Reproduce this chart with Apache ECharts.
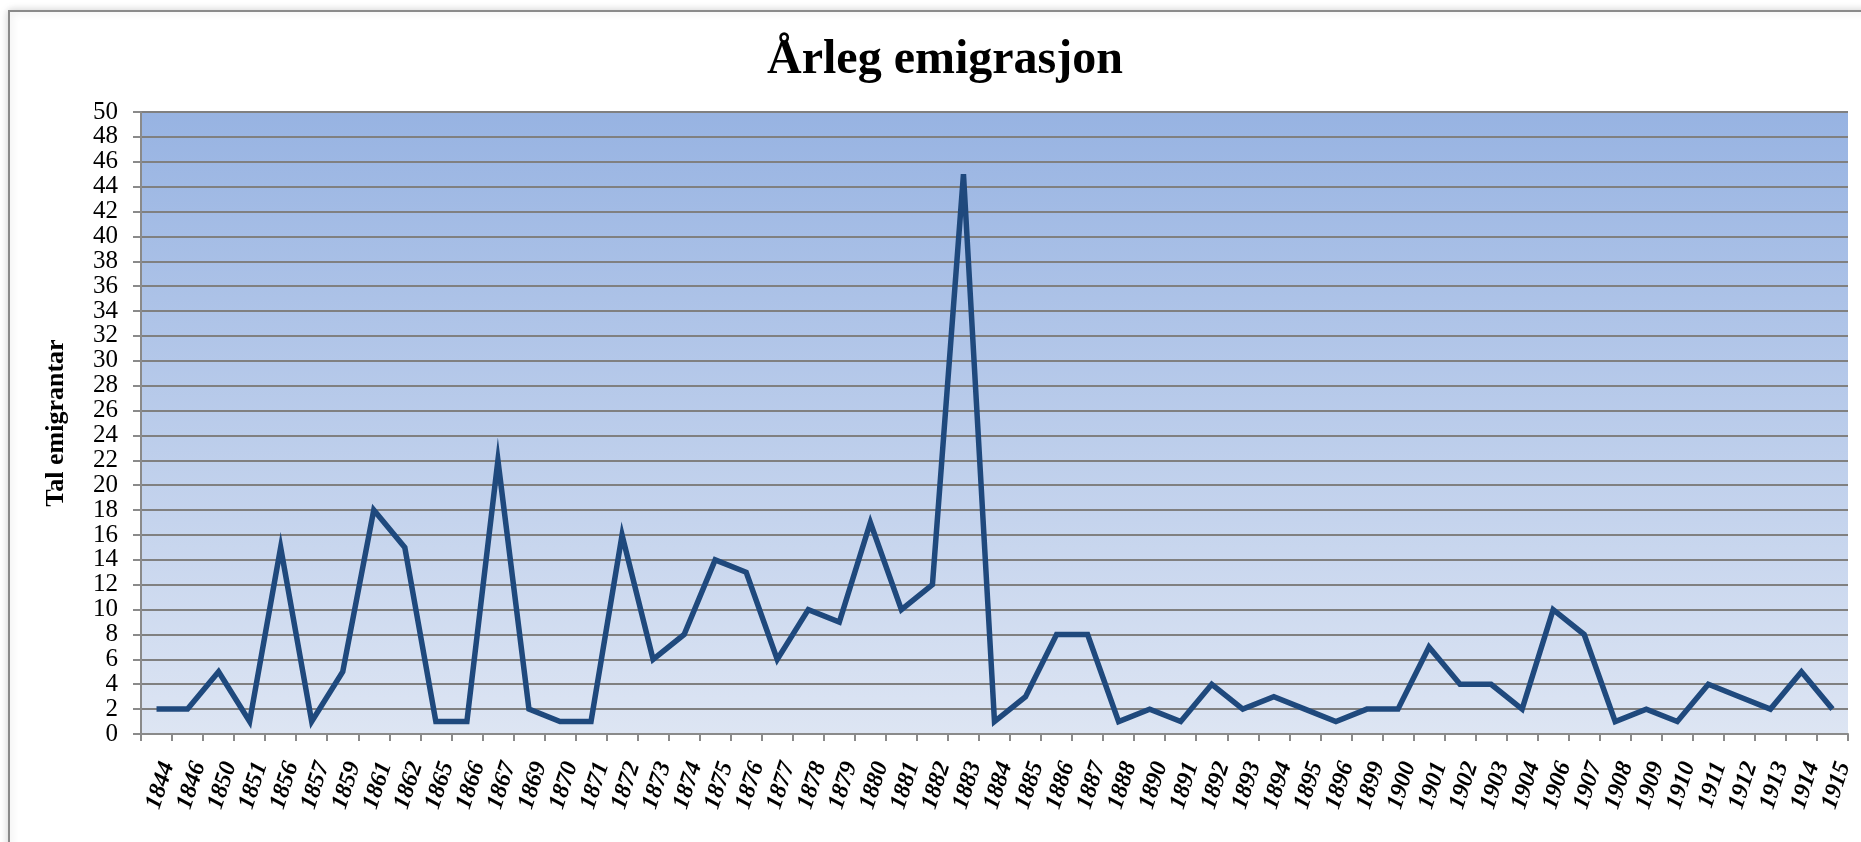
<!DOCTYPE html>
<html>
<head>
<meta charset="utf-8">
<script src="https://cdn.jsdelivr.net/npm/echarts@6/dist/echarts.min.js"></script>
<style>
html, body { margin: 0; padding: 0; background: #fff; }
#chart { width: 1861px; height: 842px; }
</style>
</head>
<body>
<div id="chart"></div>
<script>
var years = ['1844','1846','1850','1851','1856','1857','1859','1861','1862','1865','1866','1867','1869','1870','1871',
    '1872','1873','1874','1875','1876','1877','1878','1879','1880','1881','1882','1883','1884','1885','1886','1887',
    '1888','1890','1891','1892','1893','1894','1895','1896','1899','1900','1901','1902','1903','1904','1906','1907',
    '1908','1909','1910','1911','1912','1913','1914','1915'];
var emigrants = [2,2,5,1,15,1,5,18,15,1,1,22,2,1,1,
    16,6,8,14,13,6,10,9,17,10,12,45,1,3,8,8,
    1,2,1,4,2,3,2,1,2,2,7,4,4,2,10,8,
    1,2,1,4,3,2,5,2];
var yMin = 0, yMax = 50, yStep = 2;

var serif = '"Liberation Serif", "Times New Roman", serif';
var myChart = echarts.init(document.getElementById('chart'));

var option = {
    animation: false,
    graphic: [
        {
            type: 'rect',
            shape: { x: 9, y: 11, width: 1950, height: 900 },
            style: {
                fill: '#fff',
                stroke: '#8a8a8a',
                lineWidth: 2,
                shadowBlur: 8,
                shadowColor: 'rgba(0,0,0,0.18)'
            },
            z: -100
        },
        {
            type: 'text',
            x: 945,
            y: 61,
            style: {
                text: 'Årleg emigrasjon',
                fontFamily: serif,
                fontWeight: 'bold',
                fontSize: 48,
                fill: '#000',
                textAlign: 'center',
                textVerticalAlign: 'middle'
            }
        }
    ],
    grid: {
        left: 141,
        right: 13,
        top: 112,
        bottom: 108,
        show: true,
        borderWidth: 0,
        backgroundColor: new echarts.graphic.LinearGradient(0, 0, 0, 1, [
            { offset: 0, color: '#97b3e2' },
            { offset: 1, color: '#dde5f3' }
        ])
    },
    xAxis: {
        type: 'category',
        data: years,
        boundaryGap: true,
        axisLine: { lineStyle: { color: '#8a8a8a', width: 2 } },
        axisTick: { show: true, length: 7, lineStyle: { color: '#8a8a8a', width: 2 } },
        axisLabel: {
            interval: 0,
            rotate: 72,
            margin: 25,
            verticalAlign: 'top',
            fontFamily: serif,
            fontWeight: 'bold',
            fontStyle: 'italic',
            fontSize: 24,
            color: '#000'
        },
        splitLine: { show: false }
    },
    yAxis: {
        type: 'value',
        min: yMin,
        max: yMax,
        interval: yStep,
        name: 'Tal emigrantar',
        nameLocation: 'middle',
        nameGap: 72,
        nameTextStyle: {
            fontFamily: serif,
            fontWeight: 'bold',
            fontSize: 26,
            color: '#000'
        },
        axisLine: { show: true, lineStyle: { color: '#8a8a8a', width: 2 } },
        axisTick: { show: true, length: 8, lineStyle: { color: '#8a8a8a', width: 2 } },
        axisLabel: {
            margin: 23,
            showMinLabel: true,
            showMaxLabel: true,
            hideOverlap: false,
            fontFamily: serif,
            fontSize: 25,
            color: '#000'
        },
        splitLine: { show: true, lineStyle: { color: '#808080', width: 2 } }
    },
    series: [{
        name: 'Tal emigrantar',
        type: 'line',
        data: emigrants,
        symbol: 'none',
        lineStyle: { color: '#1f497d', width: 5.5, join: 'miter' },
        itemStyle: { color: '#1f497d' }
    }]
};
myChart.setOption(option);
</script>
</body>
</html>
